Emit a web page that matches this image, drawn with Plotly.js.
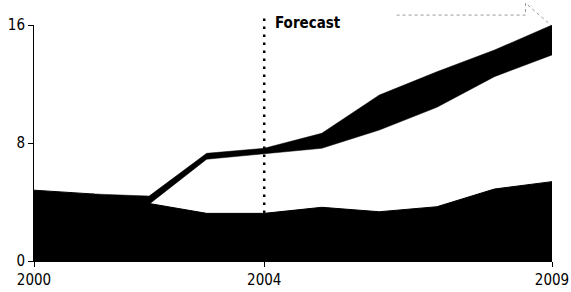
<!DOCTYPE html>
<html>
<head>
<meta charset="utf-8">
<script src="https://cdn.plot.ly/plotly-3.0.1.min.js"></script>
<style>html,body{margin:0;padding:0;background:#fff;}#chart{width:571px;height:292px;}</style>
</head>
<body>
<div id="chart"></div>
<script>
// Data
const years = [2000, 2001, 2002, 2003, 2004, 2005, 2006, 2007, 2008, 2009];
const baseValues = [4.8, 4.55, 3.9, 3.23, 3.23, 3.64, 3.34, 3.68, 4.88, 5.38];
const bandYears = [2001, 2002, 2003, 2004, 2005, 2006, 2007, 2008, 2009];
const bandLower = [4.55, 3.85, 6.9, 7.28, 7.64, 8.88, 10.42, 12.5, 13.97];
const bandUpper = [4.55, 4.4, 7.3, 7.64, 8.66, 11.25, 12.83, 14.3, 16.0];
const xTicks = [2000, 2004, 2009];
const yTicks = [0, 8, 16];
const forecastStart = 2004;
const forecastLabel = 'Forecast';

// Pick a condensed font if one is installed, else a regular sans at a smaller size
function hasFont(name) {
  const c = document.createElement('canvas').getContext('2d');
  const s = '2000 Forecast mmmWWiil';
  c.font = '40px monospace';
  const w0 = c.measureText(s).width;
  c.font = '40px "' + name + '", monospace';
  return c.measureText(s).width !== w0;
}
let fam, xs, ys, fs;
if (hasFont('Liberation Sans Narrow')) {
  fam = '"Liberation Sans Narrow", sans-serif'; xs = 19; ys = 17; fs = 18;
} else if (hasFont('DejaVu Sans Condensed')) {
  fam = '"DejaVu Sans Condensed", sans-serif'; xs = 15; ys = 15; fs = 15;
} else {
  fam = '"Liberation Sans", Arial, sans-serif'; xs = 16; ys = 15; fs = 15;
}

const traces = [
  {x: years, y: baseValues, type: 'scatter', mode: 'lines', fill: 'tozeroy',
   fillcolor: '#000', line: {color: '#000', width: 1}, hoverinfo: 'skip'},
  {x: bandYears, y: bandLower, type: 'scatter', mode: 'lines',
   line: {color: '#000', width: 0.5}, hoverinfo: 'skip'},
  {x: bandYears, y: bandUpper, type: 'scatter', mode: 'lines', fill: 'tonexty',
   fillcolor: '#000', line: {color: '#000', width: 0.5}, hoverinfo: 'skip'}
];

const layout = {
  width: 571, height: 292,
  margin: {l: 34, r: 19, t: 25, b: 31},
  paper_bgcolor: '#fff', plot_bgcolor: '#fff',
  showlegend: false,
  font: {family: fam, size: xs, color: '#000'},
  xaxis: {
    range: [years[0], years[years.length - 1]],
    tickvals: xTicks, ticktext: xTicks.map(String),
    showgrid: false, zeroline: false, showline: true, linecolor: '#000', linewidth: 1,
    ticks: 'outside', ticklen: 5, tickcolor: '#000', tickwidth: 1,
    tickfont: {family: fam, size: xs, color: '#000'}
  },
  yaxis: {
    range: [0, 16],
    tickvals: yTicks, ticktext: yTicks.map(String),
    showgrid: false, zeroline: false, showline: true, linecolor: '#000', linewidth: 1,
    ticks: 'outside', ticklen: 5, tickcolor: '#000', tickwidth: 1,
    tickfont: {family: fam, size: ys, color: '#000'}
  },
  shapes: [
    {type: 'line', xref: 'x', yref: 'paper', x0: forecastStart, x1: forecastStart,
     y0: 0, y1: 1.046, line: {color: '#000', width: 2.5, dash: '2.5px,5.5px'}, layer: 'above'},
    {type: 'path', xref: 'x', yref: 'paper',
     path: 'M 2006.3 1.042 L 2008.54 1.042 L 2008.54 1.093 L 2008.98 1.0',
     line: {color: '#999', width: 1, dash: 'dot'}, layer: 'above'}
  ],
  annotations: [
    {x: forecastStart, xref: 'x', y: 1.0, yref: 'paper', xanchor: 'left', yanchor: 'middle',
     xshift: 9, yshift: 2, text: '<b>' + forecastLabel + '</b>', showarrow: false,
     font: {family: fam, size: fs, color: '#000'}}
  ]
};

Plotly.newPlot('chart', traces, layout, {displayModeBar: false, staticPlot: true});
</script>
</body>
</html>
